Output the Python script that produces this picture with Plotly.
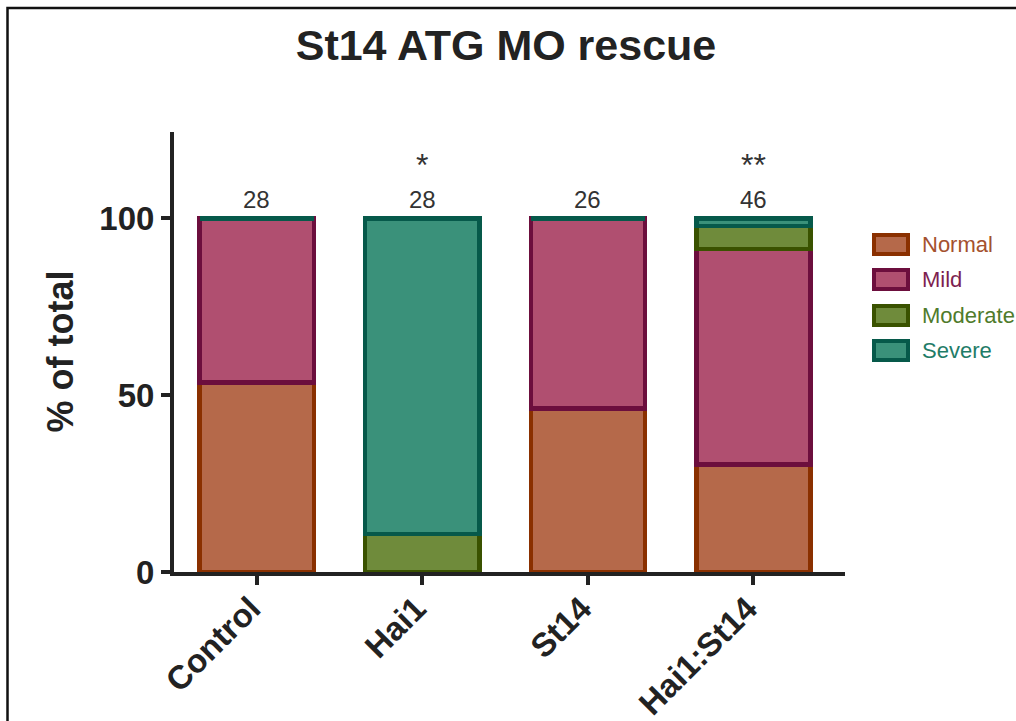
import plotly.graph_objects as go

categories = ["Control", "Hai1", "St14", "Hai1:St14"]
series_names = ["Normal", "Mild", "Moderate", "Severe"]
normal = [53.6, 0.0, 46.2, 30.4]
mild = [46.4, 0.0, 53.8, 60.9]
moderate = [0.0, 10.7, 0.0, 6.5]
severe = [0.0, 89.3, 0.0, 2.2]
counts = ["28", "28", "26", "46"]
stars = ["", "*", "", "**"]
y_ticks = [0, 50, 100]

series_values = [normal, mild, moderate, severe]
fills = ["#B5694A", "#B04F70", "#6F8B3B", "#3A917A"]
borders = ["#8A3000", "#6C0E3D", "#3A5200", "#06594A"]
text_colors = ["#A4512E", "#7E1F50", "#4F7B2B", "#1F7C68"]

FONT = "Liberation Sans, Arial, Helvetica, sans-serif"

# plot area in pixels
L, R, T, B = 174, 845, 132, 572
W, H = 1016, 721


def px_x(p):
    return (p - L) / (R - L)


def px_y(p):
    return (B - p) / (B - T)


fig = go.Figure()
for name, vals, fc, bc in zip(series_names, series_values, fills, borders):
    fig.add_trace(go.Bar(
        x=categories, y=vals, name=name, width=0.69,
        marker=dict(color=fc, line=dict(color=bc, width=4.5)),
        showlegend=False,
    ))

annotations = []
for c, n, s in zip(categories, counts, stars):
    annotations.append(dict(x=c, y=100, xref="x", yref="y", text=n, showarrow=False,
                            yanchor="middle", yshift=19,
                            font=dict(family=FONT, size=24, color="#333333")))
    if s:
        annotations.append(dict(x=c, y=100, xref="x", yref="y", text=s, showarrow=False,
                                yanchor="bottom", yshift=33,
                                font=dict(family=FONT, size=32, color="#333333")))

# y axis title
annotations.append(dict(x=px_x(37), y=0.5, xref="paper", yref="paper", text="<b>% of total</b>",
                        textangle=-90, showarrow=False,
                        font=dict(family=FONT, size=36, color="#222222")))

shapes = []
# legend swatches
leg_top = [233, 268, 304, 339]
for i, (name, fc, bc, tc) in enumerate(zip(series_names, fills, borders, text_colors)):
    y0 = leg_top[i]
    shapes.append(dict(type="rect", xref="paper", yref="paper",
                       x0=px_x(874), x1=px_x(908), y0=px_y(y0 + 21), y1=px_y(y0 + 2),
                       fillcolor=fc, line=dict(color=bc, width=4)))
    annotations.append(dict(x=px_x(920), y=px_y(y0 + 11.5), xref="paper", yref="paper",
                            text=name, showarrow=False, xanchor="left", yanchor="middle",
                            font=dict(family=FONT, size=22, color=tc)))

# outer frame
shapes.append(dict(type="rect", xref="paper", yref="paper",
                   x0=px_x(7.5), x1=px_x(1040), y0=px_y(760), y1=px_y(8),
                   line=dict(color="#111111", width=2.5), fillcolor="rgba(0,0,0,0)", layer="below"))

fig.update_layout(
    width=W, height=H,
    margin=dict(l=L, r=W - R, t=T, b=H - B, pad=0, autoexpand=False),
    barmode="stack",
    plot_bgcolor="white", paper_bgcolor="white",
    title=dict(text="<b>St14 ATG MO rescue</b>", x=506 / W, xanchor="center",
               y=1 - 45 / H, yanchor="middle",
               font=dict(family=FONT, size=43, color="#222222")),
    xaxis=dict(range=[-0.5, 3.553], showgrid=False, zeroline=False, automargin=False,
               showline=True, linecolor="#222222", linewidth=4,
               ticks="outside", ticklen=9, tickwidth=4, tickcolor="#222222",
               tickangle=-45, tickfont=dict(family=FONT, size=33, color="#222222"),
               ticklabelstandoff=-9, ticklabelshift=-6,
               tickprefix="<b>", ticksuffix="</b>"),
    yaxis=dict(range=[0, 124.4], showgrid=False, zeroline=False, automargin=False,
               showline=True, linecolor="#222222", linewidth=4,
               ticks="outside", ticklen=9, tickwidth=4, tickcolor="#222222",
               tickvals=y_ticks, ticktext=["<b>%d</b>" % v for v in y_ticks],
               tickfont=dict(family=FONT, size=33, color="#222222")),
    annotations=annotations,
    shapes=shapes,
    font=dict(family=FONT),
)

fig.write_html("out.html", config={"displayModeBar": False},
               post_script="document.body.style.margin='0';")
